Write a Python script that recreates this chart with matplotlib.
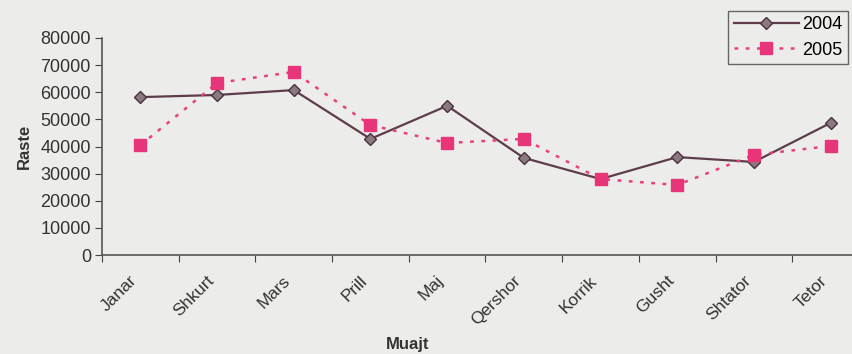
import matplotlib.pyplot as plt
import matplotlib.transforms as mtransforms
import numpy as np

plt.rcParams['font.family'] = ['Liberation Sans', 'DejaVu Sans']

months = ['Janar', 'Shkurt', 'Mars', 'Prill', 'Maj', 'Qershor',
          'Korrik', 'Gusht', 'Shtator', 'Tetor']
raste_2004 = [58200, 59000, 60800, 42800, 55000, 35800, 28000, 36100, 34300, 48700]
raste_2005 = [40500, 63400, 67500, 47900, 41300, 42800, 28000, 25800, 36900, 40200]

bg = '#ececea'
fig = plt.figure(figsize=(8.53, 3.54), dpi=100, facecolor=bg)
# axis runs a little past the right edge of the figure
ax = fig.add_axes([102 / 853, 1 - 255 / 354, 767 / 853, 217 / 354], facecolor=bg)

x = np.arange(len(months))
ax.plot(x, raste_2004, color='#5e3c4c', lw=1.6, marker='D', ms=6,
        mfc='#8a7a80', mec='#4a3040', label='2004')
ax.plot(x, raste_2005, color='#e8407e', lw=1.8, ls=(0, (1.5, 3)), marker='s', ms=9,
        mfc='#e8357a', mec='#e8357a', label='2005')

ax.set_xlim(-0.5, len(months) - 0.5)
ax.set_ylim(0, 80000)
ax.set_yticks(np.arange(0, 80001, 10000))
ax.set_xticks(np.arange(-0.5, len(months), 1.0))
ax.set_xticklabels([])
ax.set_xticks(x, minor=True)
ax.set_xticklabels(months, minor=True, rotation=45, ha='right', va='top',
                   rotation_mode='anchor')
ax.tick_params(axis='x', which='minor', length=0, pad=0, labelsize=12.5, colors='#333333')
ax.tick_params(axis='x', which='major', length=5, direction='out', color='#444444')
ax.tick_params(axis='y', length=5, labelsize=13, colors='#333333', color='#444444', pad=3)

# nudge month names down and left of their category centres
shift = mtransforms.ScaledTranslation(-11 / 100, -18 / 100, fig.dpi_scale_trans)
for lbl in ax.get_xticklabels(minor=True):
    lbl.set_transform(lbl.get_transform() + shift)

for side in ['top', 'right']:
    ax.spines[side].set_visible(False)
for side in ['left', 'bottom']:
    ax.spines[side].set_color('#555555')
    ax.spines[side].set_linewidth(1.2)

ax.set_ylabel('Raste', fontsize=12, fontweight='bold', color='#333333', labelpad=6)
fig.text(408 / 853, 1 - 345 / 354, 'Muajt', fontsize=12, fontweight='bold',
         color='#333333', ha='center', va='center')

leg = fig.legend(loc='upper right', bbox_to_anchor=(848 / 853, 1 - 11 / 354),
                 frameon=True, fancybox=False, fontsize=13, handlelength=3.6,
                 borderpad=0.3, labelspacing=0.45, handletextpad=0.2,
                 borderaxespad=0.0)
leg.get_frame().set_edgecolor('#444444')
leg.get_frame().set_facecolor(bg)
leg.get_frame().set_linewidth(1.0)

fig.savefig('out.png', dpi=100, facecolor=bg)
